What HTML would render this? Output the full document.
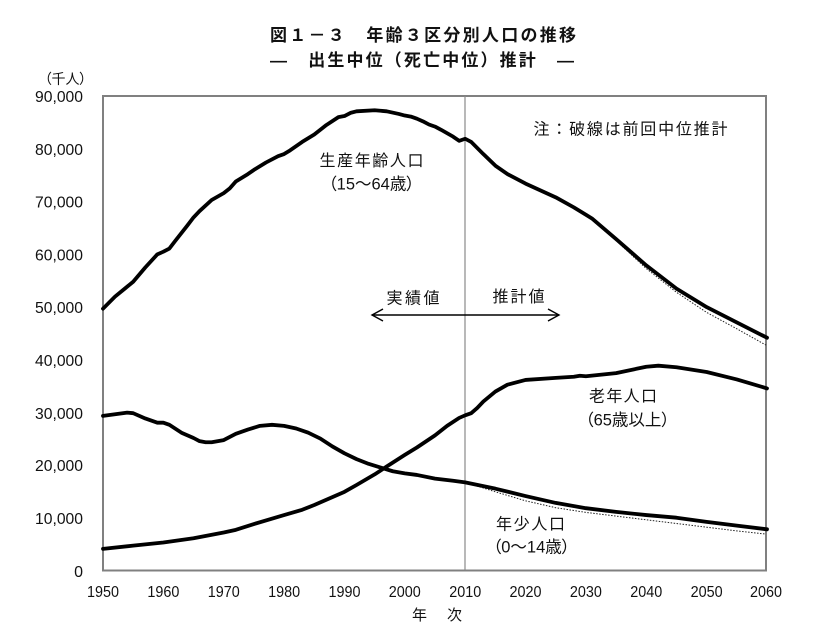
<!DOCTYPE html>
<html><head><meta charset="utf-8">
<style>
html,body{margin:0;padding:0;background:#fff;}
svg{display:block;}
text{font-family:"Liberation Sans","Noto Sans CJK JP",sans-serif;fill:#111;}
.p{font-feature-settings:"palt";}
</style></head>
<body>
<svg width="830" height="630" viewBox="0 0 830 630" xmlns="http://www.w3.org/2000/svg">
<rect x="0" y="0" width="830" height="630" fill="#fff"/>

<!-- Titles -->
<text x="423" y="41" font-size="17" font-weight="bold" text-anchor="middle" textLength="306">図１－３　年齢３区分別人口の推移</text>
<text x="422" y="66" font-size="17" font-weight="bold" text-anchor="middle" textLength="304">―　出生中位（死亡中位）推計　―</text>

<!-- unit -->
<text class="p" x="65.5" y="84" font-size="14" text-anchor="middle">（千人）</text>

<!-- Y labels -->
<g font-size="16" text-anchor="end" style="fill:#1a1a1a">
<text x="83" y="102" textLength="48" lengthAdjust="spacingAndGlyphs">90,000</text>
<text x="83" y="155" textLength="48" lengthAdjust="spacingAndGlyphs">80,000</text>
<text x="83" y="207.5" textLength="48" lengthAdjust="spacingAndGlyphs">70,000</text>
<text x="83" y="260.5" textLength="48" lengthAdjust="spacingAndGlyphs">60,000</text>
<text x="83" y="313" textLength="48" lengthAdjust="spacingAndGlyphs">50,000</text>
<text x="83" y="366" textLength="48" lengthAdjust="spacingAndGlyphs">40,000</text>
<text x="83" y="419" textLength="48" lengthAdjust="spacingAndGlyphs">30,000</text>
<text x="83" y="471" textLength="48" lengthAdjust="spacingAndGlyphs">20,000</text>
<text x="83" y="524" textLength="48" lengthAdjust="spacingAndGlyphs">10,000</text>
<text x="83" y="577">0</text>
</g>

<!-- X labels -->
<g font-size="16" text-anchor="middle" style="fill:#1a1a1a">
<text x="103" y="597" textLength="32" lengthAdjust="spacingAndGlyphs">1950</text>
<text x="163.4" y="597" textLength="32" lengthAdjust="spacingAndGlyphs">1960</text>
<text x="223.7" y="597" textLength="32" lengthAdjust="spacingAndGlyphs">1970</text>
<text x="284.1" y="597" textLength="32" lengthAdjust="spacingAndGlyphs">1980</text>
<text x="344.5" y="597" textLength="32" lengthAdjust="spacingAndGlyphs">1990</text>
<text x="404.8" y="597" textLength="32" lengthAdjust="spacingAndGlyphs">2000</text>
<text x="465.2" y="597" textLength="32" lengthAdjust="spacingAndGlyphs">2010</text>
<text x="525.5" y="597" textLength="32" lengthAdjust="spacingAndGlyphs">2020</text>
<text x="585.9" y="597" textLength="32" lengthAdjust="spacingAndGlyphs">2030</text>
<text x="646.3" y="597" textLength="32" lengthAdjust="spacingAndGlyphs">2040</text>
<text x="706.6" y="597" textLength="32" lengthAdjust="spacingAndGlyphs">2050</text>
<text x="766" y="597" textLength="32" lengthAdjust="spacingAndGlyphs">2060</text>
</g>
<text x="437" y="620" font-size="15" text-anchor="middle" textLength="50">年　次</text>

<!-- frame -->
<rect x="103" y="96" width="663" height="474.5" fill="none" stroke="#808080" stroke-width="2"/>
<line x1="465" y1="96" x2="465" y2="570" stroke="#8a8a8a" stroke-width="1.2"/>

<!-- dotted (previous projection) -->
<polyline fill="none" stroke="#222" stroke-width="1" stroke-dasharray="1.5,1.5"
 points="465.2,482.3 495.4,491.8 525.5,500.8 555.7,507.7 585.9,512.4 616.1,516.1 646.3,519.8 676.5,523.5 706.6,527.2 736.8,530.9 766,534.1"/>
<polyline fill="none" stroke="#222" stroke-width="1" stroke-dasharray="1.5,1.5"
 points="585.9,214.8 616.1,240.6 646.3,268.6 676.5,292.3 706.6,312.4 736.8,328.8 766,345.1"/>

<!-- solid series -->
<g transform="translate(103,571) scale(6.03636,-5.27778)" fill="none" stroke="#000" stroke-linejoin="round" stroke-linecap="round">
<polyline vector-effect="non-scaling-stroke" stroke-width="3.8" points="
0,49.7 2,52.0 5,54.8 7,57.5 9,60.0 10,60.5 11,61.1 12,62.6 14,65.5 15,67.0 16,68.2 18,70.3 20,71.6 21,72.5 22,73.8 24,75.2 25,76.0 27,77.4 29,78.6 30,79.0 31,79.7 33,81.3 35,82.7 37,84.5 39,86.0 40,86.2 41,86.8 42,87.1 45,87.3 47,87.1 49,86.6 50,86.3 51,86.1 52,85.7 53,85.2 54,84.6 55,84.2 56,83.6 58,82.3 59,81.5 60,81.9 61,81.3 63,79.0 65,76.8 67,75.2 70,73.4 75,70.8 78,68.9 80,67.5 81,66.8 85,62.9 90,57.9 95,53.5 100,50.0 105,47.1 110,44.2"/>
<polyline vector-effect="non-scaling-stroke" stroke-width="3.8" points="
0,4.2 5,4.8 10,5.4 15,6.2 20,7.3 22,7.8 25,8.9 30,10.6 33,11.6 35,12.5 38,14.0 40,15.0 42,16.3 45,18.3 47,19.8 50,22.0 52,23.4 55,25.7 57,27.5 59,29.0 60,29.5 61,29.9 62,30.9 63,32.1 65,34.0 67,35.3 70,36.2 75,36.6 78,36.8 79,37.0 80,36.9 85,37.5 90,38.7 92,38.9 95,38.6 100,37.7 105,36.3 110,34.6"/>
<polyline vector-effect="non-scaling-stroke" stroke-width="3.8" points="
0,29.4 2,29.7 4,30.0 5,29.9 7,28.9 9,28.1 10,28.1 11,27.7 13,26.2 15,25.2 16,24.6 17,24.4 18,24.4 20,24.8 21,25.4 22,26.0 24,26.8 26,27.5 28,27.7 30,27.5 32,27.0 34,26.2 36,25.1 38,23.6 40,22.3 42,21.2 44,20.3 46,19.6 48,18.9 50,18.5 52,18.2 55,17.5 58,17.1 60,16.8 65,15.6 70,14.2 75,12.9 80,11.9 85,11.2 90,10.6 95,10.1 100,9.3 105,8.6 110,7.9"/>
</g>

<!-- annotations -->
<text x="630.5" y="134.5" font-size="16" text-anchor="middle" textLength="194">注：破線は前回中位推計</text>
<text x="371.5" y="166" font-size="16" text-anchor="middle" textLength="104">生産年齢人口</text>
<text class="p" x="371.5" y="189.5" font-size="16.5" text-anchor="middle">（15～64歳）</text>

<text x="413" y="303.5" font-size="16" text-anchor="middle" textLength="53">実績値</text>
<text x="518.5" y="302" font-size="16" text-anchor="middle" textLength="52">推計値</text>
<line x1="372" y1="315" x2="559" y2="315" stroke="#000" stroke-width="1.4"/>
<polyline points="383,309 372,315 383,321" fill="none" stroke="#000" stroke-width="1.4"/>
<polyline points="548,309 559,315 548,321" fill="none" stroke="#000" stroke-width="1.4"/>

<text x="623" y="401.5" font-size="16" text-anchor="middle" textLength="68">老年人口</text>
<text class="p" x="627.5" y="425.5" font-size="16.5" text-anchor="middle">（65歳以上）</text>

<text x="530.5" y="529.5" font-size="16" text-anchor="middle" textLength="69">年少人口</text>
<text class="p" x="531.5" y="552.5" font-size="16.5" text-anchor="middle">（0～14歳）</text>
</svg>
</body></html>
